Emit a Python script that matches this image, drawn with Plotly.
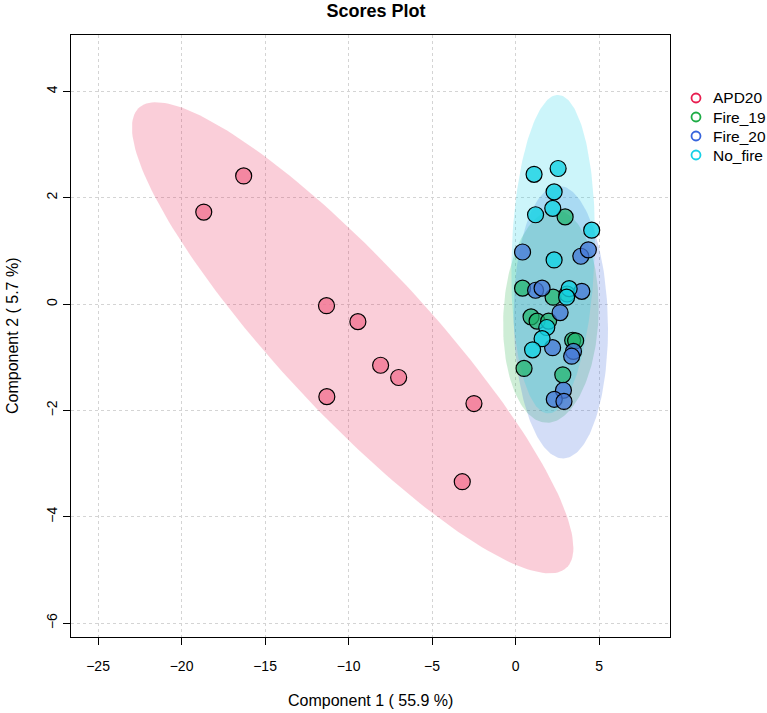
import numpy as np
import plotly.graph_objects as go

groups = ["APD20", "Fire_19", "Fire_20", "No_fire"]
# legend / ellipse base colours and point fills
base_colors = {"APD20": (232, 30, 80), "Fire_19": (30, 172, 70),
               "Fire_20": (55, 100, 220), "No_fire": (22, 208, 230)}
point_fills = {"APD20": "rgba(242,118,146,0.8)", "Fire_19": "rgba(30,180,105,0.7)",
               "Fire_20": "rgba(70,120,215,0.75)", "No_fire": "rgba(20,210,228,0.8)"}

apd20_x = [-16.28, -18.67, -11.32, -9.44, -8.08, -7.00, -11.30, -2.49, -3.19]
apd20_y = [2.41, 1.73, -0.03, -0.33, -1.15, -1.38, -1.74, -1.87, -3.34]

fire19_x = [2.97, 0.42, 2.25, 3.09, 0.93, 1.29, 1.98, 3.42, 3.60, 0.51, 2.83]
fire19_y = [1.64, 0.30, 0.13, 0.19, -0.24, -0.32, -0.32, -0.68, -0.69, -1.21, -1.33]

fire20_x = [0.42, 3.91, 4.36, 1.20, 1.59, 3.97, 2.67, 2.22, 3.47, 3.36, 2.87, 2.32, 2.90]
fire20_y = [0.98, 0.90, 1.02, 0.26, 0.30, 0.24, -0.16, -0.82, -0.89, -0.98, -1.62, -1.79, -1.83]

nofire_x = [1.11, 2.55, 2.31, 1.20, 2.23, 4.56, 2.31, 3.21, 3.06, 1.87, 1.59, 1.02]
nofire_y = [2.44, 2.55, 2.11, 1.68, 1.80, 1.39, 0.83, 0.29, 0.13, -0.44, -0.65, -0.86]

data = {"APD20": (apd20_x, apd20_y), "Fire_19": (fire19_x, fire19_y),
        "Fire_20": (fire20_x, fire20_y), "No_fire": (nofire_x, nofire_y)}

x_ticks = [-25, -20, -15, -10, -5, 0, 5]
y_ticks = [-6, -4, -2, 0, 2, 4]


def rgba(c, a):
    return "rgba(%d,%d,%d,%s)" % (c[0], c[1], c[2], a)


def ellipse(x, y, level_t=2.4477, n=200):
    # 95% data ellipse from the group covariance
    pts = np.column_stack([x, y])
    mu = pts.mean(axis=0)
    cov = np.cov(pts, rowvar=False)
    L = np.linalg.cholesky(cov)
    th = np.linspace(0, 2 * np.pi, n)
    circ = np.vstack([np.cos(th), np.sin(th)])
    e = mu[:, None] + level_t * L @ circ
    return e[0], e[1]


fig = go.Figure()

for g in groups:
    ex, ey = ellipse(*data[g])
    fig.add_trace(go.Scatter(x=ex, y=ey, mode="lines", fill="toself",
                             fillcolor=rgba(base_colors[g], 0.22), line=dict(width=0),
                             hoverinfo="skip", showlegend=False))

for g in groups:
    x, y = data[g]
    fig.add_trace(go.Scatter(x=x, y=y, mode="markers", showlegend=False, name=g,
                             marker=dict(size=16, color=point_fills[g],
                                         line=dict(color="black", width=1.2))))

# plot box in pixels: left 71, right 670, top 35, bottom 637
L_, R_, T_, B_ = 71, 670, 35, 637
W, H = 767, 713


def px_to_paper(px, py):
    return (px - L_) / (R_ - L_), (B_ - py) / (B_ - T_)


# legend drawn at the right, open circles + labels
legend_y = [98, 117, 136, 155]
for g, ly in zip(groups, legend_y):
    cx, cy = px_to_paper(696, ly)
    fig.add_shape(type="circle", xref="paper", yref="paper",
                  xsizemode="pixel", ysizemode="pixel", xanchor=cx, yanchor=cy,
                  x0=-4.5, x1=4.5, y0=-4.5, y1=4.5,
                  line=dict(color=rgba(base_colors[g], 1), width=1.8))
    tx, ty = px_to_paper(711, ly)
    fig.add_annotation(text=g, x=tx, y=ty, xref="paper", yref="paper",
                       xanchor="left", yanchor="middle", showarrow=False,
                       font=dict(size=15.5, color="black"))

# axis titles
ax, ay = px_to_paper((L_ + R_) / 2, 700)
fig.add_annotation(text="Component 1 ( 55.9 %)", x=ax, y=ay, xref="paper", yref="paper",
                   xanchor="center", yanchor="middle", showarrow=False,
                   font=dict(size=16, color="black"))
ax, ay = px_to_paper(12, (T_ + B_) / 2)
fig.add_annotation(text="Component 2 ( 5.7 %)", x=ax, y=ay, xref="paper", yref="paper",
                   xanchor="center", yanchor="middle", showarrow=False, textangle=-90,
                   font=dict(size=16, color="black"))

axis_common = dict(showline=True, linecolor="black", linewidth=1, mirror=True,
                   ticks="outside", ticklen=7, tickcolor="black", automargin=False,
                   showgrid=True, gridcolor="#d4d4d4", griddash="dot", gridwidth=1,
                   zeroline=False, tickfont=dict(size=14, color="black"))

fig.update_layout(
    width=W, height=H,
    margin=dict(l=L_, r=W - R_, t=T_, b=H - B_),
    paper_bgcolor="white", plot_bgcolor="white", showlegend=False,
    font=dict(family="Liberation Sans, Arial, sans-serif", color="black"),
    title=dict(text="<b>Scores Plot</b>", x=376 / W, xanchor="center", xref="container",
               y=1 - 11 / H, yanchor="middle", yref="container", font=dict(size=18)),
    xaxis=dict(range=[-26.62, 9.25], tickvals=x_ticks, ticklabelstandoff=9,
               **axis_common),
    yaxis=dict(range=[-6.26, 5.06], tickvals=y_ticks, tickangle=-90,
               ticklabelstandoff=0, **axis_common),
)

# remove the default page margin so the figure sits at the window's corner
fig.write_html("out.html", config={"displayModeBar": False},
               post_script="document.body.style.margin='0';")
